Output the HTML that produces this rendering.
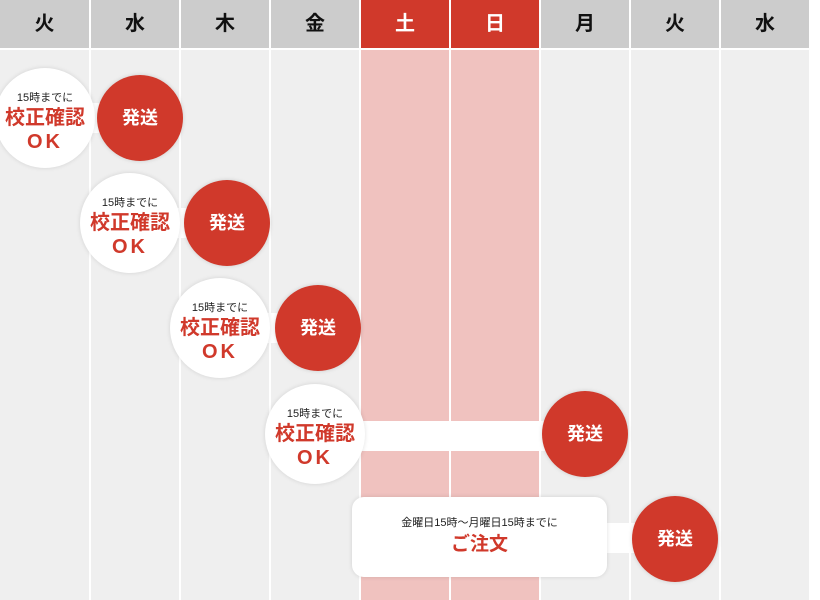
<!DOCTYPE html><html><head><meta charset="utf-8"><style>
*{margin:0;padding:0;box-sizing:border-box}
body{width:820px;height:600px;background:#fff;position:relative;overflow:hidden;font-family:"Liberation Sans","Noto Sans CJK JP",sans-serif}
.col{position:absolute;top:0;width:88px;height:600px}
.hd{position:absolute;top:0;left:0;width:88px;height:48px;background:#cccccc;font-weight:bold;font-size:20px;line-height:48px;text-align:center;color:#111}
.bd{position:absolute;top:50px;left:0;width:88px;height:550px;background:#efefef}
.we .hd{background:#d0392b;color:#fff}.we .bd{background:#f0c2bf}
.w{position:absolute;width:100px;height:100px;border-radius:50%;background:#fff;box-shadow:0 0 5px rgba(0,0,0,.12);text-align:center}
.w .s{font-size:11px;color:#222;margin-top:24px;line-height:13px}
.w .b{font-size:20px;font-weight:bold;color:#d0392b;line-height:26px}
.w .o{font-size:20px;font-weight:bold;color:#d0392b;line-height:22px;letter-spacing:3px}
.r{position:absolute;width:86px;height:86px;border-radius:50%;background:#d0392b;color:#fff;font-weight:bold;font-size:18px;line-height:86px;text-align:center;box-shadow:0 0 4px rgba(0,0,0,.15)}
.bar{position:absolute;background:#fff;height:30px}
</style></head><body>
<div class="col" style="left:0;width:89px"><div class="hd" style="width:89px">火</div><div class="bd" style="width:89px"></div></div>
<div class="col" style="left:91px"><div class="hd">水</div><div class="bd"></div></div>
<div class="col" style="left:181px"><div class="hd">木</div><div class="bd"></div></div>
<div class="col" style="left:271px"><div class="hd">金</div><div class="bd"></div></div>
<div class="col we" style="left:361px"><div class="hd">土</div><div class="bd"></div></div>
<div class="col we" style="left:451px"><div class="hd">日</div><div class="bd"></div></div>
<div class="col" style="left:541px"><div class="hd">月</div><div class="bd"></div></div>
<div class="col" style="left:631px"><div class="hd">火</div><div class="bd"></div></div>
<div class="col" style="left:721px"><div class="hd">水</div><div class="bd"></div></div>

<div class="bar" style="left:60px;top:103px;width:60px"></div>
<div class="bar" style="left:150px;top:208px;width:60px"></div>
<div class="bar" style="left:240px;top:313px;width:60px"></div>
<div class="bar" style="left:330px;top:421px;width:230px"></div>
<div class="bar" style="left:590px;top:523px;width:60px"></div>

<div class="w" style="left:-5px;top:68px"><div class="s">15時までに</div><div class="b">校正確認</div><div class="o">OK</div></div>
<div class="r" style="left:97px;top:75px">発送</div>
<div class="w" style="left:80px;top:173px"><div class="s">15時までに</div><div class="b">校正確認</div><div class="o">OK</div></div>
<div class="r" style="left:184px;top:180px">発送</div>
<div class="w" style="left:170px;top:278px"><div class="s">15時までに</div><div class="b">校正確認</div><div class="o">OK</div></div>
<div class="r" style="left:275px;top:285px">発送</div>
<div class="w" style="left:265px;top:384px"><div class="s">15時までに</div><div class="b">校正確認</div><div class="o">OK</div></div>
<div class="r" style="left:542px;top:391px">発送</div>
<div style="position:absolute;left:352px;top:497px;width:255px;height:80px;background:#fff;border-radius:12px;box-shadow:0 0 5px rgba(0,0,0,.12);text-align:center">
<div style="font-size:11px;color:#222;margin-top:20px;line-height:13px">金曜日15時〜月曜日15時までに</div>
<div style="font-size:19px;font-weight:bold;color:#d0392b;line-height:30px">ご注文</div></div>
<div class="r" style="left:632px;top:496px">発送</div>
</body></html>
